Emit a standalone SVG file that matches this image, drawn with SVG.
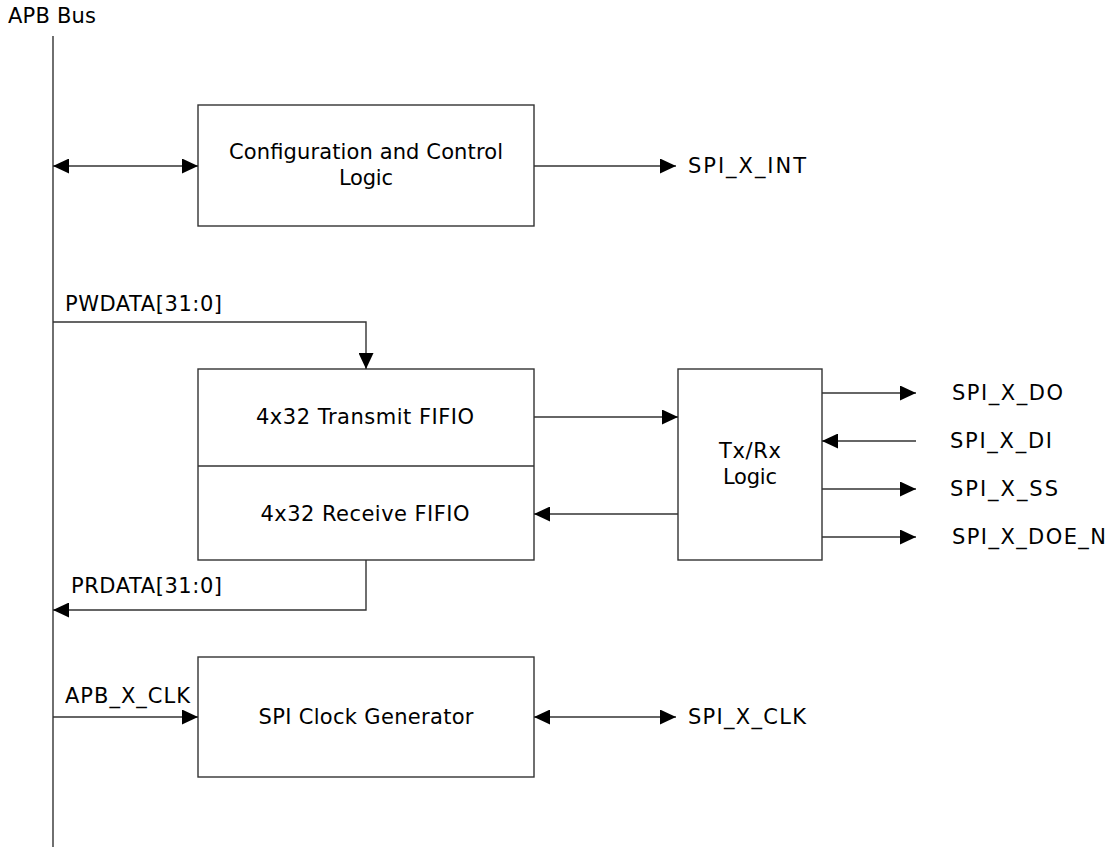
<svg xmlns="http://www.w3.org/2000/svg" width="1110" height="847" viewBox="0 0 1110 847">
<style>
text{font-family:"DejaVu Sans",Verdana,sans-serif;font-size:21px;fill:#000}
.c{text-anchor:middle}
.box{fill:#fff;stroke:#333;stroke-width:1.4}
.ln{fill:none;stroke:#333;stroke-width:1.4}
</style>
<defs>
<marker id="ah" markerUnits="userSpaceOnUse" markerWidth="16" markerHeight="15" refX="16" refY="7.5" orient="auto-start-reverse" viewBox="0 0 16 15">
<path d="M0,0 L16,7.5 L0,15 Z" fill="#000"/>
</marker>
</defs>
<g id="bus">
<text x="8" y="23" textLength="88" lengthAdjust="spacing">APB Bus</text>
<line class="ln" x1="53" y1="36" x2="53" y2="847"/>
</g>
<g id="config">
<rect class="box" x="198" y="105" width="336" height="121"/>
<text class="c" x="366" y="159" textLength="274" lengthAdjust="spacing">Configuration and Control</text>
<text class="c" x="366" y="185" textLength="54" lengthAdjust="spacing">Logic</text>
</g>
<g id="fifo">
<rect class="box" x="198" y="369" width="336" height="191"/>
<line class="ln" x1="198" y1="466" x2="534" y2="466"/>
<text class="c" x="365" y="424" textLength="218" lengthAdjust="spacing">4x32 Transmit FIFIO</text>
<text class="c" x="365" y="521" textLength="209" lengthAdjust="spacing">4x32 Receive FIFIO</text>
</g>
<g id="txrx">
<rect class="box" x="678" y="369" width="144" height="191"/>
<text class="c" x="750" y="458" textLength="62" lengthAdjust="spacing">Tx/Rx</text>
<text class="c" x="750" y="484" textLength="54" lengthAdjust="spacing">Logic</text>
</g>
<g id="clkgen">
<rect class="box" x="198" y="657" width="336" height="120"/>
<text class="c" x="366" y="724" textLength="215" lengthAdjust="spacing">SPI Clock Generator</text>
</g>
<g id="connectors">
<line class="ln" x1="53" y1="166" x2="198" y2="166" marker-start="url(#ah)" marker-end="url(#ah)"/>
<line class="ln" x1="534" y1="166" x2="676" y2="166" marker-end="url(#ah)"/>
<polyline class="ln" points="53,322 366,322 366,369" marker-end="url(#ah)"/>
<line class="ln" x1="534" y1="417" x2="678" y2="417" marker-end="url(#ah)"/>
<line class="ln" x1="678" y1="514" x2="534" y2="514" marker-end="url(#ah)"/>
<line class="ln" x1="822" y1="393" x2="916" y2="393" marker-end="url(#ah)"/>
<line class="ln" x1="916" y1="441" x2="822" y2="441" marker-end="url(#ah)"/>
<line class="ln" x1="822" y1="489" x2="916" y2="489" marker-end="url(#ah)"/>
<line class="ln" x1="822" y1="537" x2="916" y2="537" marker-end="url(#ah)"/>
<polyline class="ln" points="366,560 366,610 53,610" marker-end="url(#ah)"/>
<line class="ln" x1="53" y1="717" x2="198" y2="717" marker-end="url(#ah)"/>
<line class="ln" x1="534" y1="717" x2="676" y2="717" marker-start="url(#ah)" marker-end="url(#ah)"/>
</g>
<g id="labels">
<text x="688" y="173" textLength="118" lengthAdjust="spacing">SPI_X_INT</text>
<text x="65" y="311" textLength="157" lengthAdjust="spacing">PWDATA[31:0]</text>
<text x="71" y="593" textLength="151" lengthAdjust="spacing">PRDATA[31:0]</text>
<text x="65" y="703" textLength="125" lengthAdjust="spacing">APB_X_CLK</text>
<text x="688" y="724" textLength="118" lengthAdjust="spacing">SPI_X_CLK</text>
<text x="952" y="400" textLength="111" lengthAdjust="spacing">SPI_X_DO</text>
<text x="950" y="448" textLength="102" lengthAdjust="spacing">SPI_X_DI</text>
<text x="950" y="496" textLength="108" lengthAdjust="spacing">SPI_X_SS</text>
<text x="952" y="544" textLength="154" lengthAdjust="spacing">SPI_X_DOE_N</text>
</g>
</svg>
